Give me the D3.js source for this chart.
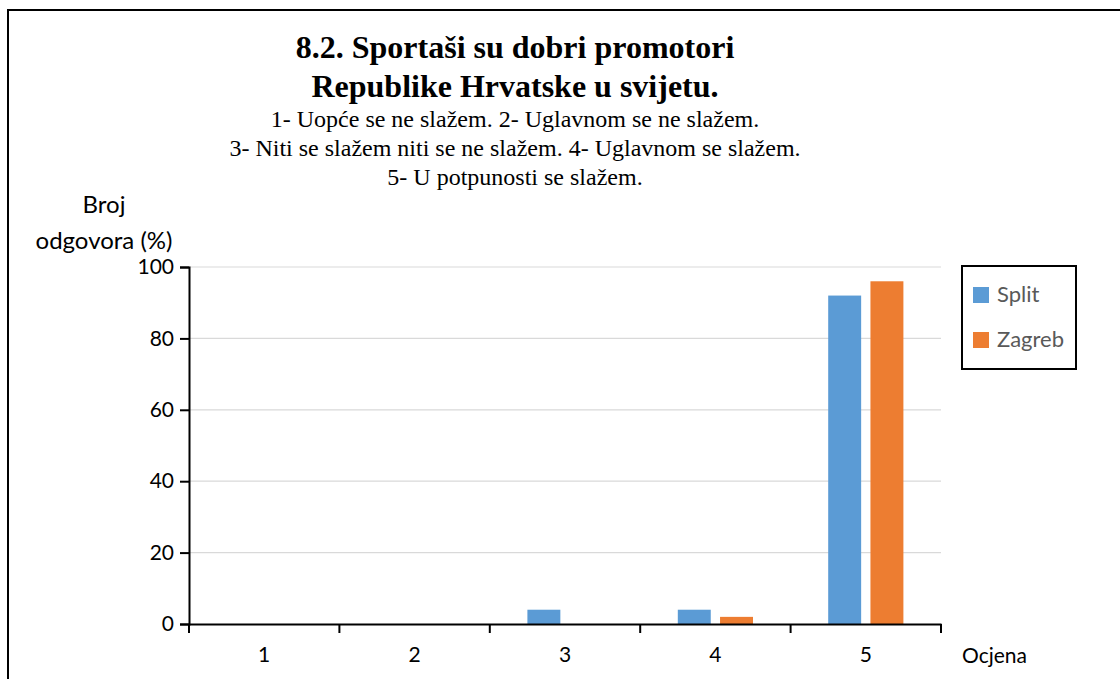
<!DOCTYPE html>
<html>
<head>
<meta charset="utf-8">
<script src="https://cdn.jsdelivr.net/npm/d3@7"></script>
<style>
  body { margin: 0; background: #fff; }
</style>
</head>
<body>
<svg width="1120" height="679"></svg>
<script>
const categories = ['1', '2', '3', '4', '5']
const seriesNames = ['Split', 'Zagreb']
const splitValues = [0, 0, 4, 4, 92]
const zagrebValues = [0, 0, 0, 2, 96]
const yTicks = [0, 20, 40, 60, 80, 100]
const colors = ['#5b9bd5', '#ed7d31']

const titleLines = ['8.2. Sportaši su dobri promotori', 'Republike Hrvatske u svijetu.']
const subtitleLines = [
  '1- Uopće se ne slažem. 2- Uglavnom se ne slažem.',
  '3- Niti se slažem niti se ne slažem. 4- Uglavnom se slažem.',
  '5- U potpunosti se slažem.'
]

const svg = d3.select('svg')
const width = +svg.attr('width')
const height = +svg.attr('height')

const sans = 'Lato, "Open Sans", sans-serif'
const serif = '"Liberation Serif", "Times New Roman", serif'

// outer frame (right/bottom edges run off the picture)
svg.append('rect')
  .attr('x', 8)
  .attr('y', 10)
  .attr('width', width + 20)
  .attr('height', height + 20)
  .attr('fill', 'none')
  .attr('stroke', '#000')
  .attr('stroke-width', 2)

const plot = { left: 189, right: 941, top: 267, bottom: 624 }

const x = d3.scaleBand()
  .domain(categories)
  .range([plot.left, plot.right])
  .padding(0)

const xInner = d3.scaleBand()
  .domain(seriesNames)
  .range([x.bandwidth() * 0.25, x.bandwidth() * 0.75])
  .paddingInner(0.22)

const y = d3.scaleLinear()
  .domain([0, 100])
  .range([plot.bottom, plot.top])

// gridlines
svg.append('g')
  .selectAll('line')
  .data(yTicks.filter(d => d > 0))
  .join('line')
  .attr('x1', plot.left)
  .attr('x2', plot.right)
  .attr('y1', d => y(d))
  .attr('y2', d => y(d))
  .attr('stroke', '#d9d9d9')
  .attr('stroke-width', 1.2)

// bars
const data = categories.map((c, i) => ({
  cat: c,
  values: [
    { name: seriesNames[0], value: splitValues[i] },
    { name: seriesNames[1], value: zagrebValues[i] }
  ]
}))

svg.append('g')
  .selectAll('g')
  .data(data)
  .join('g')
  .attr('transform', d => `translate(${x(d.cat)},0)`)
  .selectAll('rect')
  .data(d => d.values)
  .join('rect')
  .attr('x', d => xInner(d.name))
  .attr('width', xInner.bandwidth())
  .attr('y', d => y(d.value))
  .attr('height', d => y(0) - y(d.value))
  .attr('fill', (d, i) => colors[i])

// y axis
const yAxis = svg.append('g')
  .attr('transform', `translate(${plot.left},0)`)
  .call(d3.axisLeft(y).tickValues(yTicks).tickSize(9).tickPadding(6))
yAxis.select('.domain').attr('stroke-width', 2)
yAxis.selectAll('.tick line').attr('stroke-width', 2)
yAxis.selectAll('text')
  .attr('font-family', sans)
  .attr('font-size', 21)
  .attr('fill', '#000')

// x axis
const xAxis = svg.append('g')
  .attr('transform', `translate(0,${plot.bottom})`)
  .call(d3.axisBottom(x).tickSize(0).tickPadding(23))
xAxis.select('.domain').attr('stroke-width', 2)
xAxis.selectAll('text')
  .attr('font-family', sans)
  .attr('font-size', 21)
  .attr('fill', '#000')

// category boundary ticks
svg.append('g')
  .selectAll('line')
  .data(categories.concat(['end']))
  .join('line')
  .attr('x1', (d, i) => i < categories.length ? x(d) : plot.right)
  .attr('x2', (d, i) => i < categories.length ? x(d) : plot.right)
  .attr('y1', plot.bottom)
  .attr('y2', plot.bottom + 9)
  .attr('stroke', '#000')
  .attr('stroke-width', 2)

// titles
const title = svg.append('text')
  .attr('text-anchor', 'middle')
  .attr('font-family', serif)
  .attr('font-weight', 'bold')
  .attr('font-size', 32)
  .attr('fill', '#000')
title.selectAll('tspan')
  .data(titleLines)
  .join('tspan')
  .attr('x', 515)
  .attr('y', (d, i) => 58 + i * 39)
  .text(d => d)

const subtitle = svg.append('text')
  .attr('text-anchor', 'middle')
  .attr('font-family', serif)
  .attr('font-size', 24)
  .attr('fill', '#000')
subtitle.selectAll('tspan')
  .data(subtitleLines)
  .join('tspan')
  .attr('x', 515)
  .attr('y', (d, i) => 127 + i * 29)
  .text(d => d)

// axis titles
const yTitle = svg.append('text')
  .attr('text-anchor', 'middle')
  .attr('font-family', sans)
  .attr('font-size', 24)
  .attr('fill', '#000')
yTitle.selectAll('tspan')
  .data(['Broj', 'odgovora (%)'])
  .join('tspan')
  .attr('x', 104)
  .attr('y', (d, i) => 213 + i * 36)
  .text(d => d)

svg.append('text')
  .attr('x', 962)
  .attr('y', 663)
  .attr('font-family', sans)
  .attr('font-size', 21)
  .attr('fill', '#000')
  .text('Ocjena')

// legend
const legend = svg.append('g')
  .attr('transform', 'translate(962,266)')
legend.append('rect')
  .attr('width', 114)
  .attr('height', 103)
  .attr('fill', '#fff')
  .attr('stroke', '#000')
  .attr('stroke-width', 2)
const items = legend.selectAll('g.item')
  .data(seriesNames)
  .join('g')
  .attr('class', 'item')
  .attr('transform', (d, i) => `translate(11,${21 + i * 45})`)
items.append('rect')
  .attr('width', 16)
  .attr('height', 16)
  .attr('fill', (d, i) => colors[i])
items.append('text')
  .attr('x', 24)
  .attr('y', 15)
  .attr('font-family', sans)
  .attr('font-size', 22)
  .attr('fill', '#595959')
  .text(d => d)
</script>
</body>
</html>
